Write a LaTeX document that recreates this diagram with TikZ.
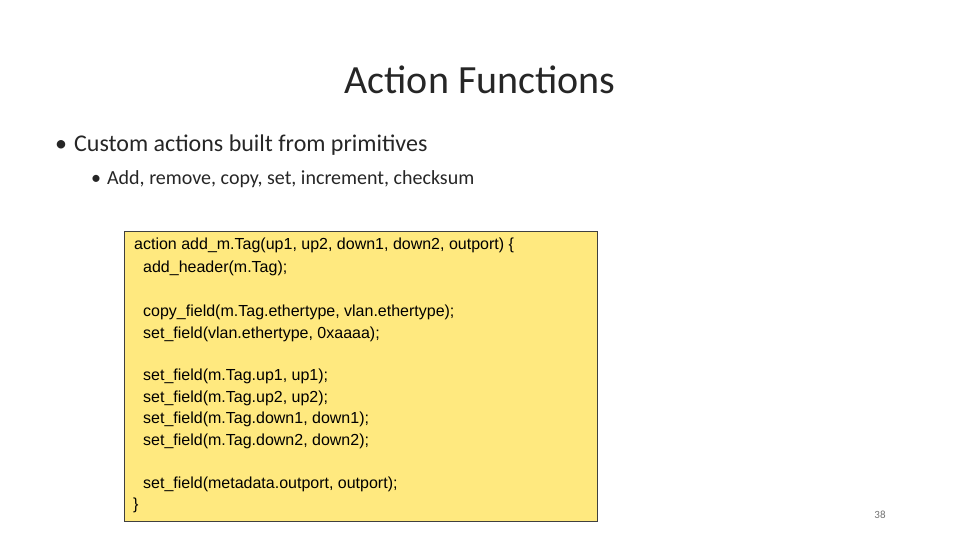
\documentclass[tikz,border=0pt]{standalone}
\usepackage{fontspec}
\setmainfont{Carlito}
\newfontfamily\arialf{Liberation Sans}
\definecolor{boxy}{HTML}{FFE97F}
\definecolor{txt}{HTML}{262626}
\begin{document}
\begin{tikzpicture}[x=1pt,y=-1pt,
  codeln/.style={anchor=west,inner sep=0pt,font=\arialf\fontsize{16}{18}\selectfont,text=black},
  bul/.style={anchor=west,inner sep=0pt,text=txt}]
\useasboundingbox (0,0) rectangle (960,540);
\node[inner sep=0pt,text=txt,font=\fontsize{40}{46}\selectfont\addfontfeature{}] (title) at (480,80) {Action Functions};
\node[bul,font=\fontsize{24}{28}\selectfont] (b1) at (55,145) {•\hspace{7pt}Custom actions built from primitives};
\node[bul,font=\fontsize{20}{24}\selectfont] (b2) at (91,179) {•\hspace{6pt}Add, remove, copy, set, increment, checksum};
\node[draw=black!75,line width=0.8pt,fill=boxy,minimum width=473pt,minimum height=290pt,anchor=north west,inner sep=0pt] (box) at (124,231) {};
\node[codeln] (l1) at (134,245) {action add\_m.Tag(up1, up2, down1, down2, outport) \{};
\node[codeln] (l2) at (143,268) {add\_header(m.Tag);};
\node[codeln] (l3) at (143,312) {copy\_field(m.Tag.ethertype, vlan.ethertype);};
\node[codeln] (l4) at (143,334) {set\_field(vlan.ethertype, 0xaaaa);};
\node[codeln] (l5) at (143,376) {set\_field(m.Tag.up1, up1);};
\node[codeln] (l6) at (143,398) {set\_field(m.Tag.up2, up2);};
\node[codeln] (l7) at (143,419) {set\_field(m.Tag.down1, down1);};
\node[codeln] (l8) at (143,441) {set\_field(m.Tag.down2, down2);};
\node[codeln] (l9) at (143,484) {set\_field(metadata.outport, outport);};
\node[codeln] (l10) at (133,505) {\}};
\node[inner sep=0pt,text=black!55,font=\fontsize{11}{13}\selectfont] (pg) at (880,515) {38};
\end{tikzpicture}
\end{document}
